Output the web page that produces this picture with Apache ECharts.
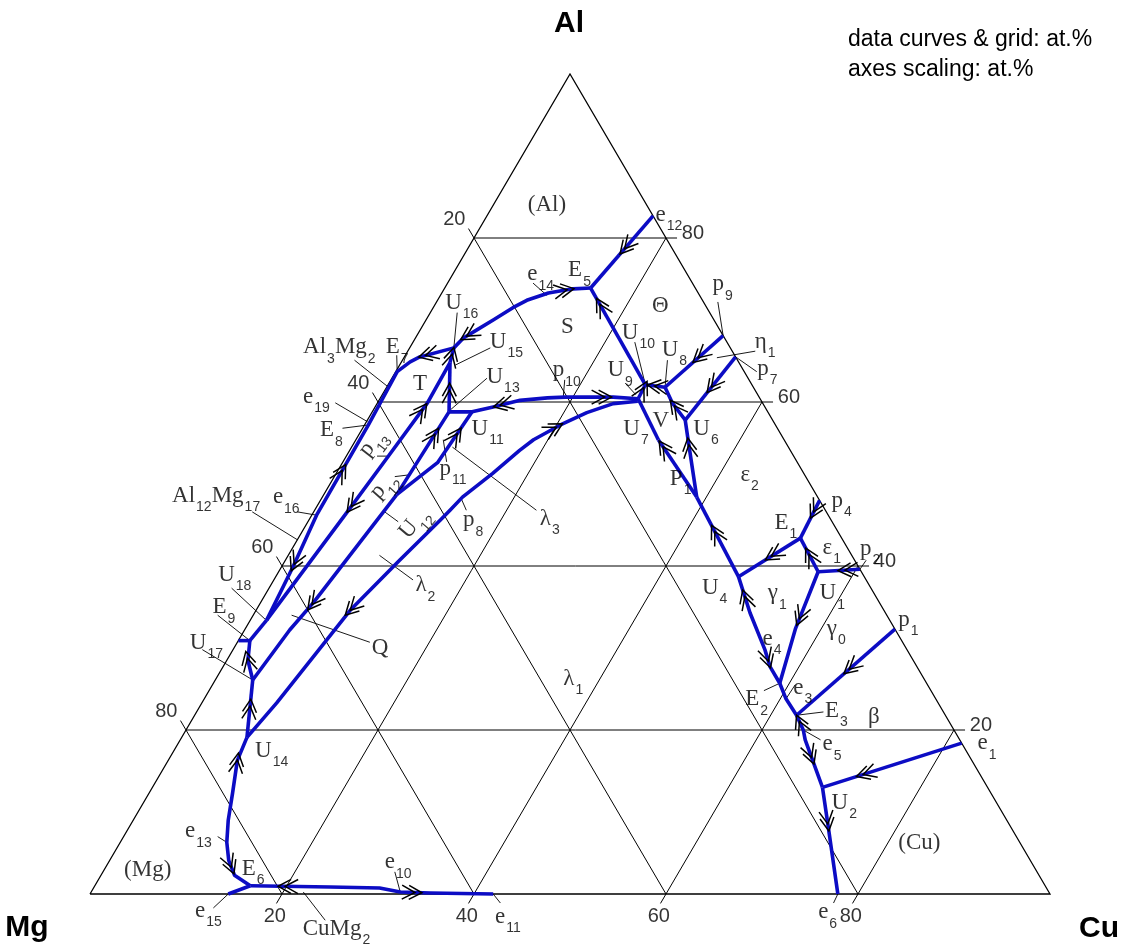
<!DOCTYPE html>
<html>
<head>
<meta charset="utf-8">
<title>Al-Cu-Mg liquidus projection</title>
<script src="https://cdn.jsdelivr.net/npm/echarts@6/dist/echarts.min.js"></script>
<style>
  html, body { margin: 0; padding: 0; background: #fff; }
  #chart { width: 1128px; height: 952px; }
</style>
</head>
<body>
<div id="chart"></div>
<script>
// compositions in at.%, written as [Cu, Al]; Mg is the rest
const gridTicks = [20, 40, 60, 80]

// monovariant lines, point order = listing order
const curves = {
  e12_E5: [[17.3, 82.7], [15.2, 73.9]],
  U16_E5: [[4.6, 66.6], [5.0, 67.8], [5.9, 68.8], [7.0, 70.0], [8.3, 71.5], [9.3, 72.4], [11.1, 73.3], [13.4, 73.8], [15.2, 73.9]],
  E5_U10: [[15.2, 73.9], [26.8, 62.1]],
  U10_U9: [[26.8, 62.1], [26.9, 60.4]],
  U10_U8: [[26.8, 62.1], [29.0, 61.8]],
  p9_U8: [[31.9, 68.1], [29.0, 61.8]],
  U8_U6: [[29.0, 61.8], [30.7, 59.9], [33.1, 57.8]],
  p7_U6: [[34.5, 65.5], [33.1, 57.8]],
  U9_U7: [[26.9, 60.4], [31.5, 55.4]],
  U7_P1: [[31.5, 55.4], [39.0, 48.4]],
  U6_P1: [[33.1, 57.8], [34.6, 55.4], [39.0, 48.4]],
  P1_U4: [[39.0, 48.4], [48.2, 38.7]],
  U4_E1: [[48.2, 38.7], [52.3, 43.4]],
  p4_E1: [[52.0, 48.0], [52.3, 43.4]],
  E1_U1: [[52.3, 43.4], [56.2, 39.3]],
  p2_U1: [[60.4, 39.6], [56.2, 39.3]],
  U1_E2: [[56.2, 39.3], [57.3, 32.4], [59.0, 25.7]],
  U4_E2: [[48.2, 38.7], [51.6, 34.3], [55.4, 29.8], [57.0, 27.7], [59.0, 25.7]],
  E2_E3: [[59.0, 25.7], [60.6, 23.8], [62.7, 21.8]],
  p1_E3: [[67.7, 32.3], [62.7, 21.8]],
  E3_U2: [[62.7, 21.8], [64.3, 20.0], [65.1, 18.8], [69.8, 13.0]],
  e1_U2: [[81.6, 18.4], [69.8, 13.0]],
  U2_e6: [[69.8, 13.0], [72.8, 8.2], [77.9, 0]],
  U16_U18: [[4.6, 66.6], [1.6, 65.5], [0.9, 64.9], [0.15, 63.7], [0.4, 57.2], [0.5, 46.2], [1.2, 39.9], [1.7, 33.4]],
  U16_U15: [[4.6, 66.6], [5.1, 64.8]],
  U15_U18: [[5.1, 64.8], [5.2, 59.9], [4.4, 53.5], [3.5, 46.6], [1.7, 33.4]],
  U15_U13: [[5.1, 64.8], [8.0, 58.8]],
  p10: [[8.0, 58.8], [10.4, 58.8], [12.3, 59.4], [14.7, 60.2], [17.4, 60.5], [19.2, 60.6], [24.2, 60.6], [26.9, 60.4]],
  U13_U12: [[8.0, 58.8], [7.8, 53.8], [7.6, 48.7]],
  U11_U12: [[10.4, 58.8], [9.9, 52.6], [7.6, 48.7]],
  U12_U17: [[7.6, 48.7], [5.5, 35.5], [4.7, 32.2], [3.9, 26.1]],
  U18_E9: [[1.7, 33.4], [1.2, 30.9]],
  edge_E9: [[0, 30.9], [1.2, 30.9]],
  U17_E9: [[3.9, 26.1], [2.2, 28.5], [1.2, 30.9]],
  U14_U17: [[6.8, 19.1], [3.9, 26.1]],
  lambda: [[6.8, 19.1], [7.8, 23.3], [9.8, 34.6], [11.9, 40.7], [13.7, 45.6], [14.1, 46.8], [14.6, 48.4], [16.3, 51.3],
    [17.7, 54.1], [18.5, 55.4], [20.4, 57.2], [22.4, 58.7], [24.6, 59.8], [27.0, 60.1]],
  E6_U14: [[16.2, 1.0], [13.9, 2.3], [12.4, 4.1], [11.1, 6.3], [9.9, 9.0], [8.7, 12.3], [7.2, 16.3], [6.8, 19.1]],
  e15_E6: [[14.4, 0], [16.2, 1.0]],
  E6_e11: [[16.2, 1.0], [24.6, 0.85], [29.8, 0.73], [32.2, 0.24], [35.4, 0.12], [42.0, 0]]
}

// falling-temperature arrows: [line, Cu, Al, +1 along the line's order / -1 against it]
const arrows = [
  ['e12_E5', 16.5, 78.8, 1], ['U16_E5', 12.5, 73.9, 1], ['E5_U10', 17.3, 71.6, -1], ['U16_E5', 5.3, 68.2, -1],
  ['U16_U18', 2.1, 66.0, 1], ['U16_U15', 4.8, 65.6, -1], ['U15_U13', 6.7, 61.2, -1],
  ['p10', 13.3, 59.4, -1], ['p10', 23.1, 60.6, 1], ['lambda', 19.6, 57.2, 1], ['lambda', 10.1, 34.6, -1],
  ['U12_U17', 5.5, 35.5, 1], ['U15_U18', 3.2, 47.7, 1], ['U15_U18', 4.4, 59.3, -1],
  ['U16_U18', 0.7, 51.3, -1], ['U16_U18', 1.2, 40.4, 1], ['U13_U12', 7.6, 56.0, -1], ['U11_U12', 9.5, 56.3, -1],
  ['U17_E9', 2.1, 28.5, 1], ['U14_U17', 5.0, 22.7, 1], ['E6_U14', 7.3, 16.1, 1], ['E6_U14', 12.6, 3.3, -1],
  ['E6_e11', 20.1, 0.85, -1], ['E6_e11', 33.4, 0.5, 1],
  ['p9_U8', 30.8, 65.5, 1], ['p7_U6', 33.4, 62.3, 1], ['U10_U8', 28.1, 61.8, -1], ['U8_U6', 31.4, 59.4, -1],
  ['U10_U9', 26.9, 61.5, -1], ['U7_P1', 32.7, 54.4, -1], ['U6_P1', 35.0, 54.5, -1], ['P1_U4', 43.0, 43.8, -1],
  ['U4_E1', 50.2, 41.6, -1], ['p4_E1', 52.1, 46.8, 1], ['E1_U1', 54.5, 41.3, -1], ['p2_U1', 59.1, 39.5, 1],
  ['U4_E2', 50.4, 36.1, -1], ['U4_E2', 56.0, 28.5, 1], ['U1_E2', 57.3, 33.7, 1], ['p1_E3', 65.3, 27.7, 1],
  ['E3_U2', 63.7, 20.9, -1], ['E3_U2', 66.3, 16.7, 1], ['e1_U2', 73.3, 14.8, 1], ['U2_e6', 72.0, 8.7, 1]
]

// text | subscript | text ..., Cu, Al, rotation
const labels = [
  ['(Al)', 3.6, 84.0], ['e|12', 17.5, 82.8], ['E|5', 11.8, 76.0], ['e|14', 7.8, 75.5], ['Θ', 22.7, 71.7],
  ['S', 14.5, 69.1], ['U|16', 1.0, 72.0], ['U|15', 8.0, 67.3], ['Al|3|Mg|2', -11.1, 66.6], ['E|7', -2.5, 66.6],
  ['T', 2.6, 62.1], ['U|13', 9.8, 63.0], ['p|10', 16.3, 63.8], ['U|10', 21.2, 68.4], ['U|9', 22.0, 63.8],
  ['U|8', 26.4, 66.3], ['p|9', 27.7, 74.3], ['η|1', 35.6, 67.3], ['p|7', 37.5, 64.0], ['U|7', 27.2, 56.7],
  ['V', 29.8, 57.6], ['U|6', 34.5, 56.7], ['U|11', 11.4, 56.7], ['p|11', 10.5, 51.8], ['λ|3', 24.0, 45.7],
  ['p|8', 16.1, 45.5], ['λ|2', 15.1, 37.6], ['Q', 14.4, 29.9], ['λ|1', 36.2, 26.2], ['e|19', -8.1, 60.6],
  ['E|8', -4.3, 56.5], ['p|13', 1.9, 55.0, 52], ['p|12', 5.7, 49.8, 48], ['U|12', 11.2, 45.2, 50],
  ['Al|12|Mg|17', -15.7, 48.5], ['e|16', -5.1, 48.3], ['U|18', -6.1, 38.9], ['E|9', -4.7, 34.9],
  ['U|17', -4.9, 30.6], ['U|14', 8.5, 17.4], ['e|13', 6.1, 7.6], ['(Mg)', 2.1, 2.9], ['E|6', 14.3, 3.0],
  ['e|15', 12.0, -2.1], ['CuMg|2', 24.3, -4.3], ['e|10', 28.8, 3.8], ['e|11', 43.6, -2.8], ['e|6', 77.0, -2.3],
  ['P|1', 35.1, 50.6], ['ε|2', 42.2, 51.1], ['E|1', 48.7, 45.2], ['p|4', 53.3, 47.9], ['ε|1', 55.2, 42.2],
  ['p|2', 59.2, 42.0], ['U|4', 45.1, 37.3], ['γ|1', 52.3, 36.6], ['U|1', 57.7, 36.6], ['γ|0', 60.6, 32.3],
  ['p|1', 67.5, 33.4], ['e|4', 54.5, 31.1], ['E|2', 56.4, 23.7], ['e|3', 60.7, 25.1], ['E|3', 65.4, 22.3],
  ['β', 70.3, 21.5], ['e|5', 67.2, 18.2], ['e|1', 83.3, 18.3], ['U|2', 71.7, 11.1], ['(Cu)', 81.1, 6.2]
]

// thin pointer lines from labels to points
const leaders = [
  [[8.9, 74.5], [11.1, 73.0]], [[2.8, 70.9], [4.6, 66.6]], [[8.4, 66.6], [5.8, 64.5]], [[9.9, 62.9], [8.0, 59.0]],
  [[18.1, 62.7], [19.0, 60.6]], [[23.1, 67.3], [26.8, 62.1]], [[27.6, 65.1], [29.0, 61.8]], [[24.6, 62.3], [26.4, 60.9]],
  [[29.3, 72.2], [31.9, 68.1]], [[32.6, 65.4], [36.2, 66.2]], [[37.6, 63.7], [34.5, 65.5]], [[-0.9, 65.7], [0.15, 63.7]],
  [[-5.0, 65.1], [0.2, 61.8]], [[-4.4, 59.9], [0.1, 57.6]], [[-2.1, 56.8], [0.4, 57.2]], [[3.2, 53.4], [4.4, 53.4]],
  [[6.3, 50.9], [7.6, 51.1]], [[9.4, 45.4], [7.4, 46.6]], [[10.8, 52.7], [9.1, 55.4]], [[15.8, 46.8], [14.4, 48.4]],
  [[23.1, 46.8], [10.5, 54.5]], [[9.5, 41.3], [14.5, 38.3]], [[4.0, 34.0], [13.8, 30.7]], [[-3.9, 37.3], [1.5, 33.5]],
  [[-3.7, 34.0], [1.2, 30.9]], [[-3.2, 29.8], [3.9, 26.1]], [[-6.4, 46.6], [0, 43.2]], [[-1.7, 46.6], [0.5, 46.2]],
  [[9.8, 7.0], [11.1, 6.3]], [[13.7, -1.7], [14.4, 0]], [[22.1, 0.24], [26.1, -3.2]], [[30.4, 2.7], [32.2, 0.24]],
  [[42.0, 0], [43.3, -1.1]], [[77.9, 0], [78.0, -1.1]], [[57.8, 24.8], [59.0, 25.7]], [[60.7, 25.5], [60.6, 23.8]],
  [[65.3, 22.2], [62.7, 21.8]], [[66.7, 18.8], [64.3, 20.0]], [[60.5, 40.7], [60.4, 39.6]]
]

const toXY = ([cu, al]) => [cu + al / 2, al]
const blue = '#0c0cc4'
const ext = 1.15

const frame = [[0, 0], [100, 0], [0, 100], [0, 0]]
const gridLines = []
gridTicks.forEach(t => {
  gridLines.push([[0, t], [100 - t + ext, t]])           // Al = const
  gridLines.push([[t, -ext], [t, 100 - t]])              // Cu = const
  gridLines.push([[-ext, 100 - t + ext], [100 - t, 0]])  // Mg = const
})

const tickLabels = []
gridTicks.forEach(t => {
  tickLabels.push({ name: String(t), value: toXY([-3.15, 100 - t + 2.2]) })
  tickLabels.push({ name: String(t), value: toXY([t + 0.6, -2.7]) })
  tickLabels.push({ name: String(t), value: toXY([100 - t + 2.5, t + 0.6]) })
})

const richText = s => s.split('|').map((part, i) => `{${i % 2 ? 's' : 'm'}|${part}}`).join('')

function renderArrow(params, api) {
  const a = arrows[api.value(2)]
  const pts = curves[a[0]].map(p => api.coord(toXY(p)))
  const p = api.coord([api.value(0), api.value(1)])
  let best = null
  for (let i = 0; i < pts.length - 1; i++) {
    const [x1, y1] = pts[i]
    const dx = pts[i + 1][0] - x1
    const dy = pts[i + 1][1] - y1
    let t = ((p[0] - x1) * dx + (p[1] - y1) * dy) / (dx * dx + dy * dy)
    t = Math.max(0, Math.min(1, t))
    const qx = x1 + t * dx
    const qy = y1 + t * dy
    const d = (qx - p[0]) ** 2 + (qy - p[1]) ** 2
    if (!best || d < best.d) best = { d, qx, qy, ang: Math.atan2(dy, dx) }
  }
  const ang = best.ang + (a[3] < 0 ? Math.PI : 0)
  const chevron = off => ({
    type: 'polyline',
    shape: { points: [[off - 13, -7], [off, 0], [off - 13, 7]] },
    style: { stroke: '#000', fill: 'none', lineWidth: 1.5 }
  })
  return { type: 'group', x: best.qx, y: best.qy, rotation: -ang, children: [chevron(9), chevron(2)] }
}

const chart = echarts.init(document.getElementById('chart'))

chart.setOption({
  animation: false,
  backgroundColor: '#fff',
  grid: { left: 90, right: 78, top: 74, bottom: 58 },
  xAxis: { type: 'value', min: 0, max: 100, show: false },
  yAxis: { type: 'value', min: 0, max: 100, show: false },
  graphic: [
    { type: 'text', x: 569, y: 24, style: { text: 'Al', font: 'bold 30px "Liberation Sans"', fill: '#000', align: 'center', verticalAlign: 'middle' } },
    { type: 'text', x: 27, y: 928, style: { text: 'Mg', font: 'bold 30px "Liberation Sans"', fill: '#000', align: 'center', verticalAlign: 'middle' } },
    { type: 'text', x: 1099, y: 929, style: { text: 'Cu', font: 'bold 30px "Liberation Sans"', fill: '#000', align: 'center', verticalAlign: 'middle' } },
    { type: 'text', x: 848, y: 40, style: { text: 'data curves & grid: at.%', font: '23px "Liberation Sans"', fill: '#000', verticalAlign: 'middle' } },
    { type: 'text', x: 848, y: 70, style: { text: 'axes scaling: at.%', font: '23px "Liberation Sans"', fill: '#000', verticalAlign: 'middle' } }
  ],
  series: [
    {
      type: 'lines', coordinateSystem: 'cartesian2d', polyline: true, clip: false, silent: true, z: 1,
      lineStyle: { color: '#000', width: 1, opacity: 1 },
      data: gridLines.map(l => ({ coords: l.map(toXY) }))
    },
    {
      type: 'lines', coordinateSystem: 'cartesian2d', polyline: true, clip: false, silent: true, z: 1,
      lineStyle: { color: '#000', width: 1.3, opacity: 1 },
      data: [{ coords: frame.map(toXY) }]
    },
    {
      type: 'lines', coordinateSystem: 'cartesian2d', polyline: true, clip: false, silent: true, z: 2,
      lineStyle: { color: '#000', width: 0.9, opacity: 1 },
      data: leaders.map(l => ({ coords: l.map(toXY) }))
    },
    {
      type: 'lines', coordinateSystem: 'cartesian2d', polyline: true, clip: false, silent: true, z: 3,
      lineStyle: { color: blue, width: 3.6, opacity: 1, join: 'round' },
      data: Object.values(curves).map(c => ({ coords: c.map(toXY) }))
    },
    {
      type: 'custom', coordinateSystem: 'cartesian2d', silent: true, z: 4,
      renderItem: renderArrow,
      data: arrows.map((a, i) => [...toXY([a[1], a[2]]), i])
    },
    {
      type: 'scatter', clip: false, silent: true, z: 5, symbolSize: 1,
      itemStyle: { color: 'rgba(0,0,0,0)' },
      label: {
        show: true, position: 'inside', align: 'left', verticalAlign: 'middle',
        formatter: p => richText(p.name),
        rich: {
          m: { fontFamily: 'Liberation Serif', fontSize: 23, lineHeight: 24, verticalAlign: 'top', color: '#000' },
          s: { fontFamily: 'Liberation Sans', fontSize: 14, lineHeight: 14, padding: [16, 0, 0, 1], verticalAlign: 'top', color: '#000' }
        }
      },
      data: labels.map(l => {
        const item = { name: l[0], value: toXY([l[1], l[2]]) }
        if (l[3]) item.label = { rotate: l[3], align: 'center' }
        return item
      })
    },
    {
      type: 'scatter', clip: false, silent: true, z: 5, symbolSize: 1,
      itemStyle: { color: 'rgba(0,0,0,0)' },
      label: {
        show: true, position: 'inside', formatter: p => p.name,
        fontFamily: 'Liberation Sans', fontSize: 20, color: '#000'
      },
      data: tickLabels
    }
  ]
})
</script>
</body>
</html>
